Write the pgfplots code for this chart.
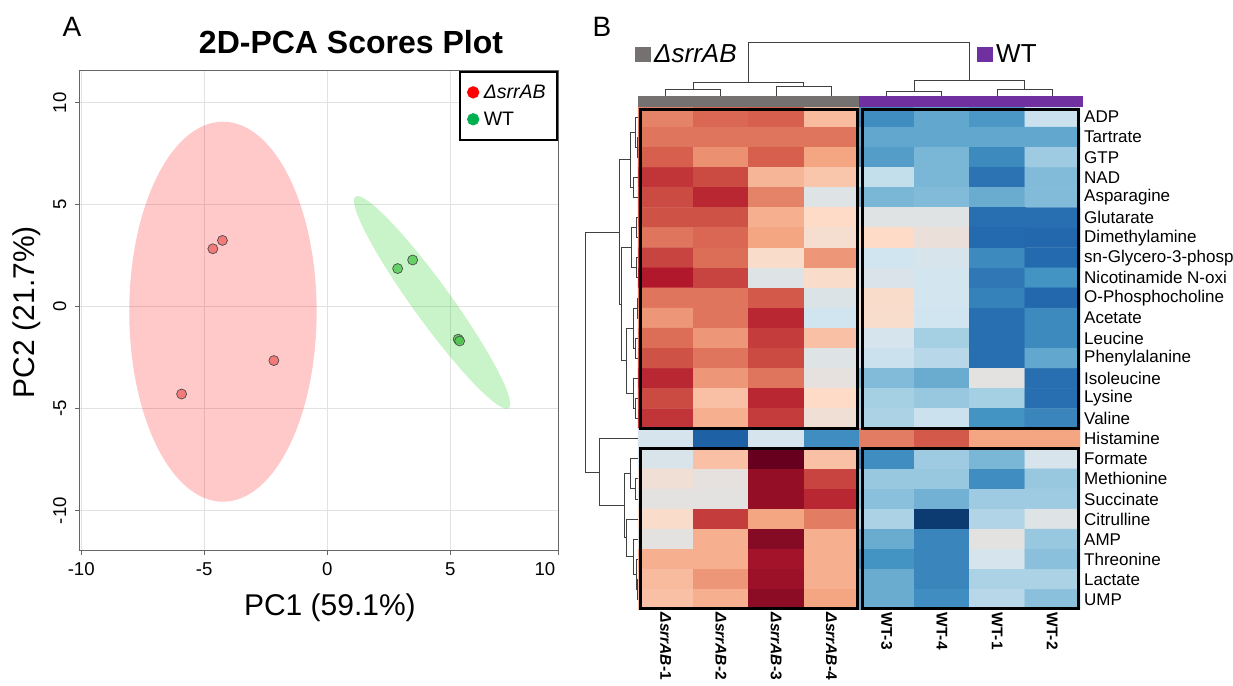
\documentclass[border=0pt]{standalone}
\usepackage{fontspec}
\setmainfont{Liberation Sans}
\usepackage{pgfplots}
\pgfplotsset{compat=1.18}
\newcommand\fs[1]{\fontsize{#1}{#1}\selectfont}
\definecolor{gridc}{HTML}{E2E2E2}
\definecolor{ptred}{HTML}{F26B6B}
\definecolor{ptgreen}{HTML}{4DC84D}
\definecolor{ellgreen}{RGB}{0,205,0}
\definecolor{legred}{HTML}{FF0000}
\definecolor{leggreen}{HTML}{00B050}
\definecolor{annogray}{HTML}{767171}
\definecolor{annopurple}{HTML}{7030A0}
\tikzset{dendro/.style={draw=black!75, line width=0.9pt}}
% row-dendrogram link: join x, y1, x1, y2, x2
\newcommand\rlink[5]{\draw[dendro] (axis cs:#3,#2) -- (axis cs:#1,#2) -- (axis cs:#1,#4) -- (axis cs:#5,#4);}
% column-dendrogram link: join y, x1, y1, x2, y2
\newcommand\clink[5]{\draw[dendro] (axis cs:#2,#3) -- (axis cs:#2,#1) -- (axis cs:#4,#1) -- (axis cs:#4,#5);}
\begin{document}
\begin{tikzpicture}
\useasboundingbox (0pt,0pt) rectangle (1233pt,685pt);
% ---------------- Panel A ----------------
\begin{axis}[
  at={(79.5pt,134.3pt)}, anchor=south west,
  width=478.8pt, height=480pt, scale only axis,
  xmin=-10.07, xmax=9.39, ymin=-11.96, ymax=11.57,
  xtick={-10,-5,0,5,9.39}, xticklabels={-10,-5,0,5,\llap{10\kern3pt}},
  ytick={-10,-5,0,5,10}, yticklabels={-10,-5,0,5,10},
  grid=major, grid style={gridc, line width=1pt},
  axis line style={draw=black!60, line width=0.9pt},
  tick pos=left, tick align=outside, major tick length=4pt,
  tick style={black!60, line width=0.8pt},
  ticklabel style={font=\fs{18.6}},
  xticklabel style={anchor=north, inner sep=0pt, yshift=-8pt},
  yticklabel style={xshift=-9pt, rotate=90, anchor=south, inner sep=0pt},
  xlabel={PC1 (59.1\%)}, ylabel={PC2 (21.7\%)},
  label style={font=\fs{30}},
  xlabel style={at={(axis description cs:0.523,-0.1194)}, anchor=center},
  ylabel style={at={(axis description cs:-0.1097,0.497)}, anchor=center},
  legend style={at={(1,1)}, anchor=north east, draw=black, line width=2.4pt,
    fill=white, font=\fs{19.5}, inner xsep=7pt, inner ysep=11pt, row sep=8pt,
    nodes={inner ysep=2pt, inner xsep=4.5pt}},
  legend cell align=left,
]
\fill[red, fill opacity=0.21] (axis cs:-4.24,-0.245) ellipse [x radius=93.7pt, y radius=190pt];
\fill[ellgreen, fill opacity=0.21, rotate around={-54.1:(axis cs:4.26,0.21)}] (axis cs:4.26,0.21) ellipse [x radius=130.6pt, y radius=19pt];
\addplot[only marks, mark=*, mark size=5pt, forget plot,
  mark options={fill=ptred, draw=black!70, line width=0.7pt, fill opacity=0.85}]
  coordinates {(-4.65,2.84) (-4.26,3.25) (-2.17,-2.64) (-5.92,-4.28)};
\addplot[only marks, mark=*, mark size=5pt, forget plot,
  mark options={fill=ptgreen, draw=black!70, line width=0.7pt, fill opacity=0.8}]
  coordinates {(2.86,1.87) (3.47,2.29) (5.32,-1.59) (5.38,-1.68)};
\addlegendimage{legend image code/.code={\fill[legred] (5pt,0pt) circle (4.9pt);}}
\addlegendentry{\textit{ΔsrrAB}\hspace{16pt}}
\addlegendimage{legend image code/.code={\fill[leggreen] (5pt,0pt) circle (4.9pt);}}
\addlegendentry{WT}
\end{axis}
\node[font=\bfseries\fs{32}] at (351pt,643.3pt) {2D-PCA Scores Plot};
\node[font=\fs{28}] at (72pt,658pt) {A};
\node[font=\fs{28}] at (602pt,658pt) {B};
% ---------------- Panel B legend ----------------
\fill[annogray] (635.4pt,623.3pt) rectangle (650.8pt,638.3pt);
\node[font=\itshape\fs{26}, anchor=west, inner sep=0pt] at (654pt,631pt) {ΔsrrAB};
\fill[annopurple] (977pt,623.3pt) rectangle (992.5pt,638.3pt);
\node[font=\fs{26}, anchor=west, inner sep=0pt] at (996pt,631pt) {WT};
% ---------------- Panel B heatmap ----------------
\begin{axis}[
  at={(638pt,75.5pt)}, anchor=south west,
  width=442pt, height=502.5pt, scale only axis,
  xmin=-0.5, xmax=7.5, ymin=-0.5, ymax=24.5, y dir=reverse,
  enlargelimits=false, clip=false,
  axis line style={draw=none}, tick style={draw=none}, major tick length=0pt,
  colormap={rdbu}{rgb255(0)=(5,48,97); rgb255(1)=(33,102,172); rgb255(2)=(67,147,195);
    rgb255(3)=(146,197,222); rgb255(4)=(209,229,240); rgb255(5)=(228,226,225);
    rgb255(6)=(253,219,199); rgb255(7)=(244,165,130); rgb255(8)=(214,96,77);
    rgb255(9)=(178,24,43); rgb255(10)=(103,0,31)},
  point meta min=-5, point meta max=5,
  xtick={0,...,7},
  xticklabels={\textit{ΔsrrAB}-1,\textit{ΔsrrAB}-2,\textit{ΔsrrAB}-3,\textit{ΔsrrAB}-4,WT-3,WT-4,WT-1,WT-2},
  xticklabel style={yshift=-3pt, rotate=-90, anchor=west, inner sep=0pt, font=\bfseries\fs{15.5}},
  ytick={0,...,24},
  yticklabels={ADP,Tartrate,GTP,NAD,Asparagine,Glutarate,Dimethylamine,sn-Glycero-3-phosp,Nicotinamide N-oxi,O-Phosphocholine,Acetate,Leucine,Phenylalanine,Isoleucine,Lysine,Valine,Histamine,Formate,Methionine,Succinate,Citrulline,AMP,Threonine,Lactate,UMP},
  yticklabel pos=right,
  yticklabel style={anchor=west, inner sep=0pt, xshift=4pt, font=\fs{17}},
]
\addplot[matrix plot*, mesh/cols=8, point meta=explicit] table[meta=c] {
x y c
0 0 2.5
1 0 2.9
2 0 3.0
3 0 1.6
4 0 -3.1
5 0 -2.6
6 0 -2.9
7 0 -1.1
0 1 2.7
1 1 2.7
2 1 2.7
3 1 2.7
4 1 -2.6
5 1 -2.6
6 1 -2.6
7 1 -2.6
0 2 3.0
1 2 2.3
2 2 3.0
3 2 2.0
4 2 -2.8
5 2 -2.3
6 2 -3.2
7 2 -1.8
0 3 3.6
1 3 3.3
2 3 1.7
3 3 1.4
4 3 -1.2
5 3 -2.3
6 3 -3.7
7 3 -2.2
0 4 3.3
1 4 3.8
2 4 2.5
3 4 -0.3
4 4 -2.3
5 4 -2.2
6 4 -2.5
7 4 -2.2
0 5 3.2
1 5 3.2
2 5 1.8
3 5 1.0
4 5 -0.2
5 5 -0.2
6 5 -3.8
7 5 -3.8
0 6 2.7
1 6 2.9
2 6 2.0
3 6 0.7
4 6 1.0
5 6 0.3
6 6 -3.9
7 6 -3.95
0 7 3.4
1 7 2.8
2 7 0.9
3 7 2.2
4 7 -1.0
5 7 -0.7
6 7 -3.2
7 7 -3.9
0 8 4.0
1 8 3.4
2 8 -0.3
3 8 0.9
4 8 -0.5
5 8 -0.9
6 8 -3.6
7 8 -3.0
0 9 2.7
1 9 2.7
2 9 3.1
3 9 -0.4
4 9 0.9
5 9 -0.9
6 9 -3.4
7 9 -3.95
0 10 2.2
1 10 2.7
2 10 3.8
3 10 -1.0
4 10 0.8
5 10 -1.0
6 10 -3.8
7 10 -3.2
0 11 2.8
1 11 2.2
2 11 3.5
3 11 1.5
4 11 -0.8
5 11 -1.7
6 11 -3.8
7 11 -3.2
0 12 3.2
1 12 2.7
2 12 3.3
3 12 -0.3
4 12 -1.1
5 12 -1.4
6 12 -3.8
7 12 -2.6
0 13 3.8
1 13 2.2
2 13 2.7
3 13 0.1
4 13 -2.2
5 13 -2.5
6 13 0.0
7 13 -3.8
0 14 3.3
1 14 1.5
2 14 3.8
3 14 1.0
4 14 -1.7
5 14 -1.9
6 14 -1.7
7 14 -3.8
0 15 3.6
1 15 1.8
2 15 3.5
3 15 0.5
4 15 -1.6
5 15 -1.1
6 15 -3.0
7 15 -3.3
0 16 -0.8
1 16 -4.1
2 16 -0.8
3 16 -3.1
4 16 2.6
5 16 3.1
6 16 2.0
7 16 2.0
0 17 -0.6
1 17 1.5
2 17 5.0
3 17 1.5
4 17 -3.1
5 17 -1.8
6 17 -2.3
7 17 -0.7
0 18 0.5
1 18 0.1
2 18 4.4
3 18 3.4
4 18 -1.9
5 18 -1.9
6 18 -3.1
7 18 -1.9
0 19 0.0
1 19 0.0
2 19 4.4
3 19 3.8
4 19 -2.1
5 19 -2.4
6 19 -1.8
7 19 -1.8
0 20 0.9
1 20 3.5
2 20 2.0
3 20 2.6
4 20 -1.6
5 20 -4.8
6 20 -1.5
7 20 -0.3
0 21 0.0
1 21 1.8
2 21 4.6
3 21 1.8
4 21 -2.5
5 21 -3.3
6 21 0.0
7 21 -1.9
0 22 1.8
1 22 1.8
2 22 4.2
3 22 1.8
4 22 -3.0
5 22 -3.3
6 22 -0.8
7 22 -2.1
0 23 1.6
1 23 2.2
2 23 4.3
3 23 1.8
4 23 -2.5
5 23 -3.3
6 23 -1.6
7 23 -1.6
0 24 1.5
1 24 1.8
2 24 4.5
3 24 2.0
4 24 -2.5
5 24 -3.1
6 24 -1.4
7 24 -2.1
};
% annotation bars
\fill[annogray] (axis cs:-0.5,-1.05) rectangle (axis cs:3.5,-0.5);
\fill[annopurple] (axis cs:3.5,-1.05) rectangle (axis cs:7.55,-0.5);
% group boxes
\draw[line width=3pt] (axis cs:-0.46,-0.38) rectangle (axis cs:3.47,15.47);
\draw[line width=3pt] (axis cs:3.56,-0.38) rectangle (axis cs:7.47,15.47);
\draw[line width=3pt] (axis cs:-0.46,16.5) rectangle (axis cs:3.47,24.45);
\draw[line width=3pt] (axis cs:3.56,16.5) rectangle (axis cs:7.47,24.45);
% column dendrogram
\clink{-1.371}{0}{-1.05}{1}{-1.05}
\clink{-1.545}{2}{-1.05}{3}{-1.05}
\clink{-1.744}{0.5}{-1.371}{2.5}{-1.545}
\clink{-1.296}{4}{-1.05}{5}{-1.05}
\clink{-1.396}{6}{-1.05}{7}{-1.05}
\clink{-1.843}{4.5}{-1.296}{6.5}{-1.396}
\clink{-3.734}{1.5}{-1.744}{5.5}{-1.843}
% row dendrogram
\rlink{-0.518}{1}{-0.5}{2}{-0.5}
\rlink{-0.554}{0}{-0.5}{1.5}{-0.518}
\rlink{-0.590}{3}{-0.5}{4}{-0.5}
\rlink{-0.645}{0.75}{-0.554}{3.5}{-0.590}
\rlink{-0.524}{5}{-0.5}{6}{-0.5}
\rlink{-0.536}{7}{-0.5}{8}{-0.5}
\rlink{-0.614}{5.5}{-0.524}{7.5}{-0.536}
\rlink{-0.512}{9}{-0.5}{10}{-0.5}
\rlink{-0.554}{11}{-0.5}{12}{-0.5}
\rlink{-0.590}{9.5}{-0.512}{11.5}{-0.554}
\rlink{-0.554}{14}{-0.5}{15}{-0.5}
\rlink{-0.590}{13}{-0.5}{14.5}{-0.554}
\rlink{-0.705}{10.5}{-0.590}{13.75}{-0.590}
\rlink{-0.795}{6.5}{-0.614}{12.125}{-0.705}
\rlink{-0.844}{2.125}{-0.645}{9.3125}{-0.795}
\rlink{-0.554}{18}{-0.5}{19}{-0.5}
\rlink{-0.645}{17}{-0.5}{18.5}{-0.554}
\rlink{-0.518}{23}{-0.5}{24}{-0.5}
\rlink{-0.524}{22}{-0.5}{23.5}{-0.518}
\rlink{-0.585}{21}{-0.5}{22.75}{-0.524}
\rlink{-0.705}{20}{-0.5}{21.875}{-0.585}
\rlink{-0.748}{17.75}{-0.645}{20.9375}{-0.705}
\rlink{-1.206}{16}{-0.5}{19.34}{-0.748}
\rlink{-1.459}{5.72}{-0.844}{17.67}{-1.206}
\end{axis}
\end{tikzpicture}
\end{document}
